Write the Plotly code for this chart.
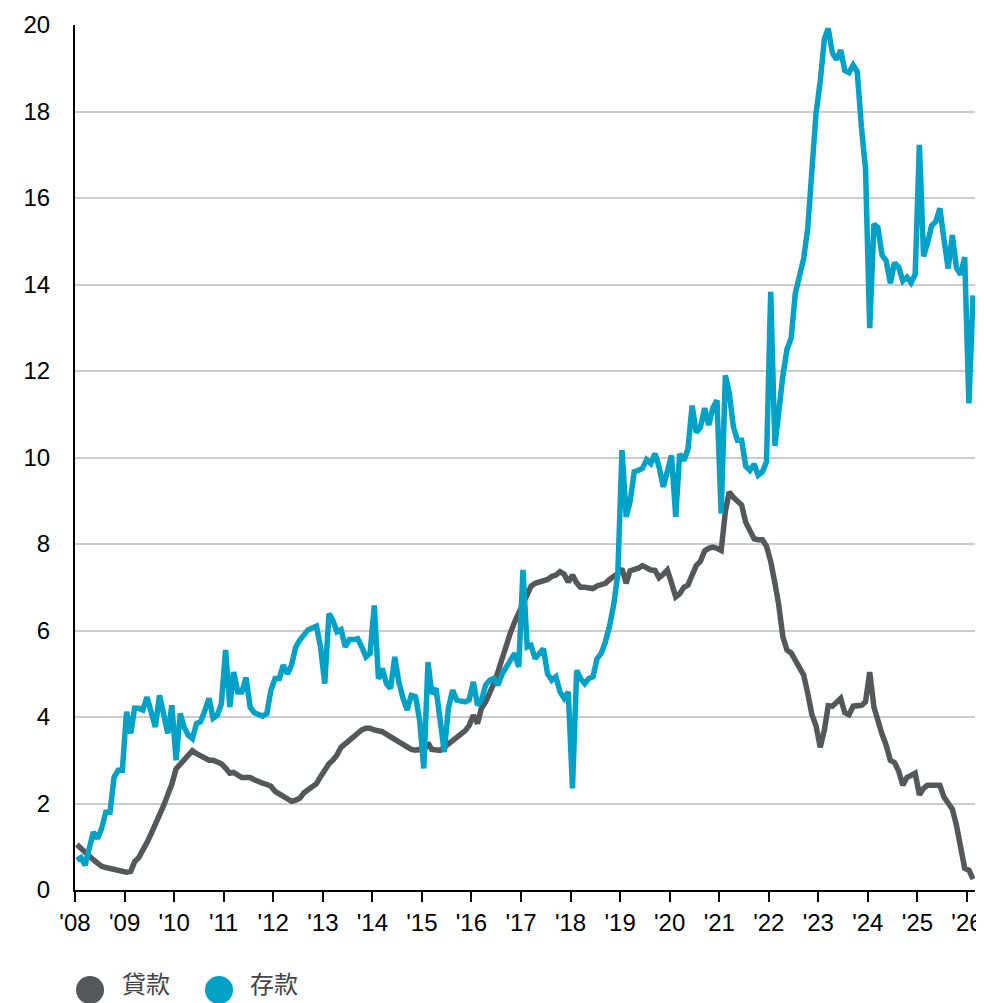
import plotly.graph_objects as go

series_names = ["貸款", "存款"]
series_colors = ["#55585b", "#00a1c6"]

loans = [
    1.05, 0.95, 0.87, 0.78, 0.70, 0.62, 0.55, 0.52, 0.50, 0.46, 0.43, 0.42,
    0.41, 0.43, 0.65, 0.75, 0.90, 1.10, 1.30, 1.50, 1.75, 1.95, 2.20, 2.45,
    2.80, 2.92, 2.98, 3.10, 3.22, 3.15, 3.10, 3.05, 3.00, 3.00, 2.97, 2.92,
    2.82, 2.70, 2.72, 2.65, 2.60, 2.60, 2.60, 2.55, 2.50, 2.47, 2.44, 2.40,
    2.28, 2.23, 2.18, 2.10, 2.05, 2.08, 2.12, 2.25, 2.32, 2.40, 2.46, 2.62,
    2.80, 2.92, 3.00, 3.12, 3.30, 3.38, 3.47, 3.55, 3.63, 3.70, 3.74, 3.74,
    3.70, 3.68, 3.66, 3.60, 3.54, 3.50, 3.44, 3.36, 3.30, 3.25, 3.23, 3.25,
    3.22, 3.40, 3.25, 3.23, 3.23, 3.30, 3.37, 3.45, 3.54, 3.62, 3.68, 3.80,
    4.04, 3.85, 4.20, 4.35, 4.55, 4.78, 5.05, 5.38, 5.65, 5.95, 6.20, 6.40,
    6.60, 6.88, 7.02, 7.09, 7.12, 7.13, 7.18, 7.25, 7.28, 7.36, 7.30, 7.12,
    7.28, 7.10, 7.00, 7.00, 7.00, 6.97, 7.03, 7.07, 7.09, 7.18, 7.25, 7.32,
    7.43, 7.09, 7.38, 7.40, 7.44, 7.50, 7.45, 7.40, 7.39, 7.22, 7.30, 7.40,
    7.10, 6.78, 6.85, 7.00, 7.05, 7.30, 7.50, 7.60, 7.84, 7.90, 7.93, 7.90,
    7.85, 8.75, 9.20, 9.08, 9.00, 8.90, 8.50, 8.30, 8.12, 8.10, 8.10, 7.95,
    7.60, 7.10, 6.60, 5.85, 5.55, 5.48, 5.30, 5.10, 4.97, 4.55, 4.05, 3.80,
    3.30, 3.70, 4.26, 4.25, 4.35, 4.43, 4.10, 4.05, 4.25, 4.27, 4.27, 4.35,
    5.04, 4.23, 3.90, 3.60, 3.35, 3.00, 2.95, 2.75, 2.42, 2.60, 2.65, 2.70,
    2.20, 2.35, 2.42, 2.42, 2.42, 2.42, 2.15, 1.98, 1.87, 1.50, 1.00, 0.50,
    0.46, 0.25,
]

deposits = [
    0.69, 0.75, 0.57, 0.95, 1.34, 1.19, 1.42, 1.80, 1.80, 2.61, 2.77, 2.77,
    4.12, 3.62, 4.20, 4.20, 4.16, 4.46, 4.10, 3.77, 4.50, 4.04, 3.62, 4.27,
    3.00, 4.08, 3.77, 3.58, 3.50, 3.85, 3.89, 4.15, 4.43, 3.97, 4.04, 4.31,
    5.55, 4.23, 5.04, 4.58, 4.58, 4.91, 4.23, 4.10, 4.05, 4.02, 4.08, 4.62,
    4.89, 4.89, 5.20, 5.00, 5.20, 5.62, 5.78, 5.89, 6.02, 6.06, 6.10, 5.62,
    4.77, 6.39, 6.24, 5.97, 6.02, 5.62, 5.79, 5.79, 5.81, 5.62, 5.39, 5.47,
    6.58, 4.88, 5.12, 4.77, 4.66, 5.39, 4.81, 4.43, 4.16, 4.50, 4.47, 3.93,
    2.81, 5.27, 4.54, 4.66, 3.93, 3.19, 4.20, 4.62, 4.39, 4.37, 4.35, 4.39,
    4.81, 4.27, 4.39, 4.74, 4.85, 4.89, 4.74, 5.00, 5.16, 5.31, 5.47, 5.16,
    7.40, 5.62, 5.66, 5.35, 5.47, 5.58, 5.00, 4.85, 4.93, 4.58, 4.43, 4.58,
    2.35, 5.08, 4.89, 4.77, 4.89, 4.93, 5.35, 5.47, 5.74, 6.10, 6.60, 7.30,
    10.17, 8.63, 8.97, 9.67, 9.70, 9.75, 9.95, 9.86, 10.09, 9.78, 9.32, 9.71,
    10.05, 8.63, 10.08, 9.93, 10.19, 11.20, 10.58, 10.70, 11.14, 10.75, 11.15, 11.32,
    8.70, 11.90, 11.50, 10.71, 10.40, 10.40, 9.80, 9.70, 9.85, 9.59, 9.67, 9.90,
    13.83, 10.27, 11.20, 11.90, 12.50, 12.76, 13.79, 14.25, 14.60, 15.30, 16.87, 17.95,
    18.70, 19.68, 19.92, 19.35, 19.20, 19.42, 18.95, 18.90, 19.07, 18.92, 17.63, 16.67,
    12.99, 15.40, 15.32, 14.68, 14.55, 14.03, 14.50, 14.40, 14.08, 14.17, 14.04, 14.23,
    17.23, 14.65, 14.95, 15.36, 15.45, 15.76, 15.05, 14.37, 15.14, 14.39, 14.23, 14.63,
    11.25, 13.75,
]

dates = [f"{2008 + i // 12}-{i % 12 + 1:02d}-15" for i in range(len(loans))]

tick_years = list(range(2008, 2027))
tick_vals = [f"{y}-01-01" for y in tick_years]
tick_text = [f"'{y % 100:02d}" for y in tick_years]
y_ticks = list(range(0, 21, 2))

FONT = "Liberation Sans, Arial, Noto Sans CJK TC, sans-serif"

fig = go.Figure()
for name, vals, col in zip(series_names, [loans, deposits], series_colors):
    fig.add_trace(go.Scatter(
        x=dates, y=vals, mode="lines", name=name, showlegend=False,
        line=dict(color=col, width=5.5),
    ))

# page body has an 8px margin: figure is 976x995 placed at (8, 8)
fig.update_layout(
    width=976, height=995,
    margin=dict(l=67, r=9, t=17, b=113),
    paper_bgcolor="white", plot_bgcolor="white",
    font=dict(family=FONT, size=24, color="#000000"),
    xaxis=dict(
        type="date", range=["2008-01-01", "2026-03-01"],
        tickmode="array", tickvals=tick_vals, ticktext=tick_text,
        ticks="outside", ticklen=10, tickwidth=2, tickcolor="#000000",
        showline=True, linecolor="#000000", linewidth=2,
        showgrid=False, zeroline=False, automargin=False,
        tickfont=dict(size=24, color="#000000"),
    ),
    yaxis=dict(
        range=[0, 20], tickmode="array", tickvals=y_ticks,
        showline=True, linecolor="#000000", linewidth=2,
        showgrid=True, gridcolor="#cccccc", gridwidth=1.5,
        zeroline=False, ticks="", ticklabelstandoff=18, automargin=False,
        tickfont=dict(size=24, color="#000000"),
    ),
)

# legend (manual, large circles)
leg_y = -0.1156
txt_y = -0.1295
leg_items = [(0.0167, 0.050), (0.160, 0.192)]
for (cx, tx), name, col in zip(leg_items, series_names, series_colors):
    fig.add_shape(type="circle", xref="paper", yref="paper",
                  xsizemode="pixel", ysizemode="pixel",
                  xanchor=cx, yanchor=leg_y, x0=-14, x1=14, y0=-14, y1=14,
                  fillcolor=col, line=dict(width=0))
    fig.add_annotation(x=tx, y=txt_y, xref="paper", yref="paper",
                       text=name, showarrow=False, xanchor="left", yanchor="bottom",
                       font=dict(size=24, color="#444444",
                                 family="Noto Sans CJK TC, sans-serif"))

fig.write_html("out.html")
